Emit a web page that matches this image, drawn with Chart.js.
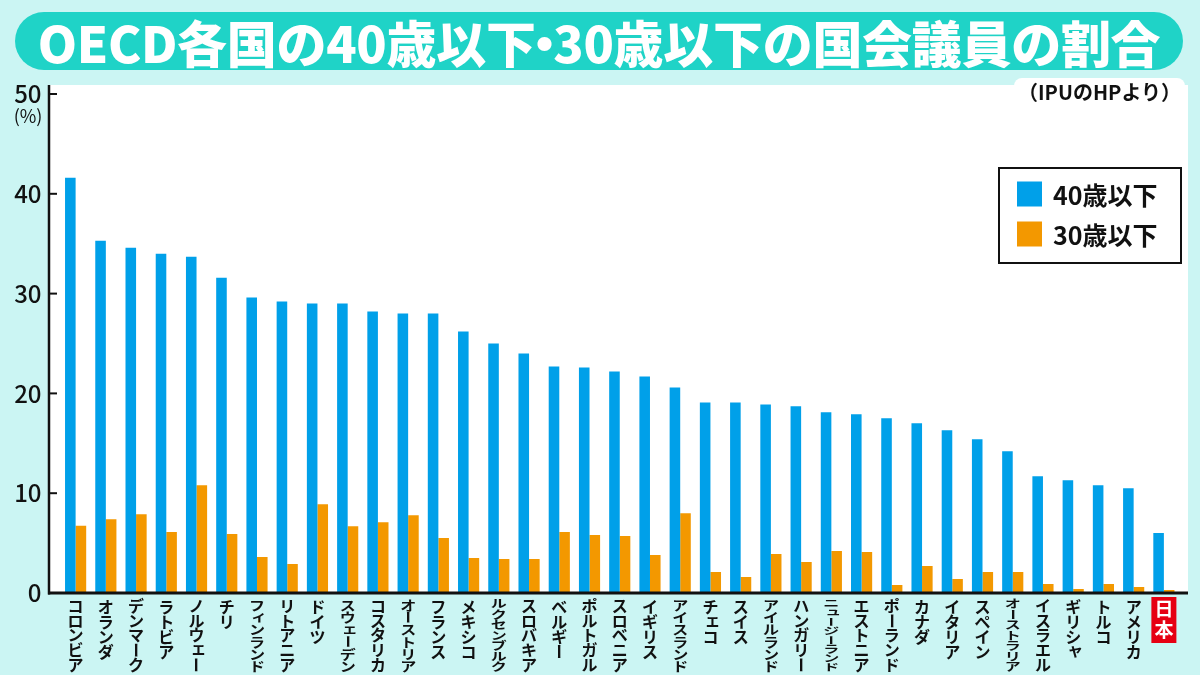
<!DOCTYPE html>
<html lang="ja">
<head>
<meta charset="utf-8">
<title>OECD各国の40歳以下・30歳以下の国会議員の割合</title>
<script src="https://cdn.jsdelivr.net/npm/chart.js@4.4.1/dist/chart.umd.min.js"></script>
<style>
    html, body {
        margin: 0;
        padding: 0;
        width: 1200px;
        height: 675px;
        overflow: hidden;
        background: #cbf5f3;
        font-family: "Noto Sans CJK JP", "Noto Sans", sans-serif;
    }
    #chart {
        position: absolute;
        left: 0;
        top: 0;
    }
    #titulo {
        position: absolute;
        left: 15px;
        top: 12px;
        width: 1168px;
        height: 58px;
        border-radius: 29px;
        background: #1fd3c7;
        color: #fff;
        font-weight: 900;
        font-size: 50px;
        line-height: 58px;
        text-align: center;
        white-space: nowrap;
        letter-spacing: -0.3px;
    }
    #titulo .ponto {
        display: inline-block;
        margin: 0 -0.32em;
    }
    #fonte {
        position: absolute;
        left: 1014px;
        top: 78px;
        padding: 0 4px;
        background: #fff;
        border-radius: 8px;
        color: #111;
        font-weight: 700;
        font-size: 20px;
        line-height: 27px;
        white-space: nowrap;
    }
</style>
</head>
<body>
<canvas id="chart" width="1200" height="675"></canvas>
<div id="titulo">OECD各国の40歳以下<span class="ponto">・</span>30歳以下の国会議員の割合</div>
<div id="fonte">（IPUのHPより）</div>

<script>
// Dados
const paises = ['コロンビア', 'オランダ', 'デンマーク', 'ラトビア', 'ノルウェー', 'チリ', 'フィンランド',
    'リトアニア', 'ドイツ', 'スウェーデン', 'コスタリカ', 'オーストリア', 'フランス', 'メキシコ',
    'ルクセンブルク', 'スロバキア', 'ベルギー', 'ポルトガル', 'スロベニア', 'イギリス', 'アイスランド',
    'チェコ', 'スイス', 'アイルランド', 'ハンガリー', 'ニュージーランド', 'エストニア', 'ポーランド',
    'カナダ', 'イタリア', 'スペイン', 'オーストラリア', 'イスラエル', 'ギリシャ', 'トルコ', 'アメリカ', '日本'];

const ate40 = [41.6, 35.3, 34.6, 34.0, 33.7, 31.6, 29.6, 29.2, 29.0, 29.0, 28.2, 28.0, 28.0, 26.2,
    25.0, 24.0, 22.7, 22.6, 22.2, 21.7, 20.6, 19.1, 19.1, 18.9, 18.7, 18.1, 17.9, 17.5,
    17.0, 16.3, 15.4, 14.2, 11.7, 11.3, 10.8, 10.5, 6.0];

const ate30 = [6.75, 7.4, 7.9, 6.1, 10.8, 5.9, 3.6, 2.9, 8.9, 6.7, 7.1, 7.8, 5.5, 3.5,
    3.4, 3.4, 6.1, 5.8, 5.7, 3.8, 8.0, 2.1, 1.6, 3.9, 3.1, 4.2, 4.1, 0.8,
    2.7, 1.4, 2.1, 2.1, 0.9, 0.4, 0.9, 0.6, 0.3];

const seriesNomes = ['40歳以下', '30歳以下'];
const yTicks = [0, 10, 20, 30, 40, 50];
const destaque = '日本';

const AZUL = '#00a0e9';
const LARANJA = '#f39800';
const FONTE = '"Noto Sans CJK JP", "Noto Sans", sans-serif';

// Plugin de desenho: fundo, eixos, rótulos verticais e legenda
const desenhoPlugin = {
    id: 'desenho',
    beforeDraw(chart) {
        const ctx = chart.ctx;
        const y0 = chart.scales.y.getPixelForValue(0);
        ctx.save();
        ctx.fillStyle = '#ffffff';
        ctx.fillRect(49, 85, 1139, y0 - 85);
        ctx.restore();
    },
    afterDatasetsDraw(chart) {
        const ctx = chart.ctx;
        const xs = chart.scales.x;
        const ys = chart.scales.y;
        const y0 = ys.getPixelForValue(0);
        const eixoX = 49;

        ctx.save();
        ctx.strokeStyle = '#111';

        // Eixo Y e marcas
        ctx.lineWidth = 2.5;
        ctx.beginPath();
        ctx.moveTo(eixoX, 85);
        ctx.lineTo(eixoX, y0 + 1.5);
        ctx.stroke();
        ctx.lineWidth = 2;
        yTicks.forEach(v => {
            const py = ys.getPixelForValue(v);
            ctx.beginPath();
            ctx.moveTo(eixoX, py);
            ctx.lineTo(eixoX + 8, py);
            ctx.stroke();
        });

        // Eixo X
        ctx.lineWidth = 3;
        ctx.beginPath();
        ctx.moveTo(eixoX - 1, y0);
        ctx.lineTo(1188, y0);
        ctx.stroke();

        // Unidade
        ctx.fillStyle = '#111';
        ctx.font = '18px ' + FONTE;
        ctx.textAlign = 'center';
        ctx.textBaseline = 'middle';
        ctx.fillText('(%)', 28, 116);

        // Rótulos verticais dos países
        const pequenos = 'ァィゥェォャュョッ';
        paises.forEach((nome, i) => {
            const px = xs.getPixelForValue(i);
            const chars = Array.from(nome);
            if (nome === destaque) {
                ctx.fillStyle = '#e60012';
                ctx.fillRect(px - 12.5, 597, 25, 46);
                ctx.fillStyle = '#ffffff';
                ctx.font = '700 19px ' + FONTE;
                chars.forEach((ch, k) => ctx.fillText(ch, px, 609 + k * 21));
                return;
            }
            const passo = Math.min(15, 73 / chars.length);
            const esc = passo / 15;
            ctx.fillStyle = '#111';
            ctx.font = '700 16px ' + FONTE;
            chars.forEach((ch, k) => {
                const cy = 599 + passo * (k + 0.5);
                ctx.save();
                ctx.translate(px, cy);
                ctx.scale(1, esc);
                if (ch === 'ー') {
                    ctx.rotate(Math.PI / 2);
                } else if (pequenos.includes(ch)) {
                    ctx.translate(2, -2);
                }
                ctx.fillText(ch, 0, 0);
                ctx.restore();
            });
        });

        // Legenda
        ctx.lineWidth = 2;
        ctx.strokeRect(999, 168, 182, 95);
        ctx.font = '700 25px ' + FONTE;
        ctx.textAlign = 'left';
        chart.data.datasets.forEach((ds, i) => {
            const ly = 194 + i * 40;
            ctx.fillStyle = ds.backgroundColor;
            ctx.fillRect(1017, ly - 12.5, 25, 25);
            ctx.fillStyle = '#111';
            ctx.fillText(ds.label, 1053, ly + 1);
        });

        ctx.restore();
    }
};

const grafico = new Chart(document.getElementById('chart'), {
    type: 'bar',
    data: {
        labels: paises,
        datasets: [
            { label: seriesNomes[0], data: ate40, backgroundColor: AZUL },
            { label: seriesNomes[1], data: ate30, backgroundColor: LARANJA }
        ]
    },
    options: {
        responsive: false,
        animation: false,
        devicePixelRatio: 1,
        layout: {
            padding: { top: 94, right: 21, bottom: 0, left: 0 }
        },
        datasets: {
            bar: { categoryPercentage: 0.7, barPercentage: 1.0 }
        },
        plugins: {
            legend: { display: false },
            title: { display: false },
            tooltip: { enabled: false }
        },
        scales: {
            x: {
                offset: true,
                grid: { display: false, drawTicks: false },
                border: { display: false },
                ticks: { display: false },
                afterFit(scale) {
                    scale.height = 82;
                }
            },
            y: {
                min: 0,
                max: 50,
                grid: { display: false, drawTicks: false },
                border: { display: false },
                afterBuildTicks(scale) {
                    scale.ticks = yTicks.map(v => ({ value: v }));
                },
                ticks: {
                    color: '#111',
                    padding: 19,
                    font: { family: FONTE, size: 24, weight: '500' }
                },
                afterFit(scale) {
                    scale.width = 60.5;
                }
            }
        }
    },
    plugins: [desenhoPlugin]
});
</script>
</body>
</html>
